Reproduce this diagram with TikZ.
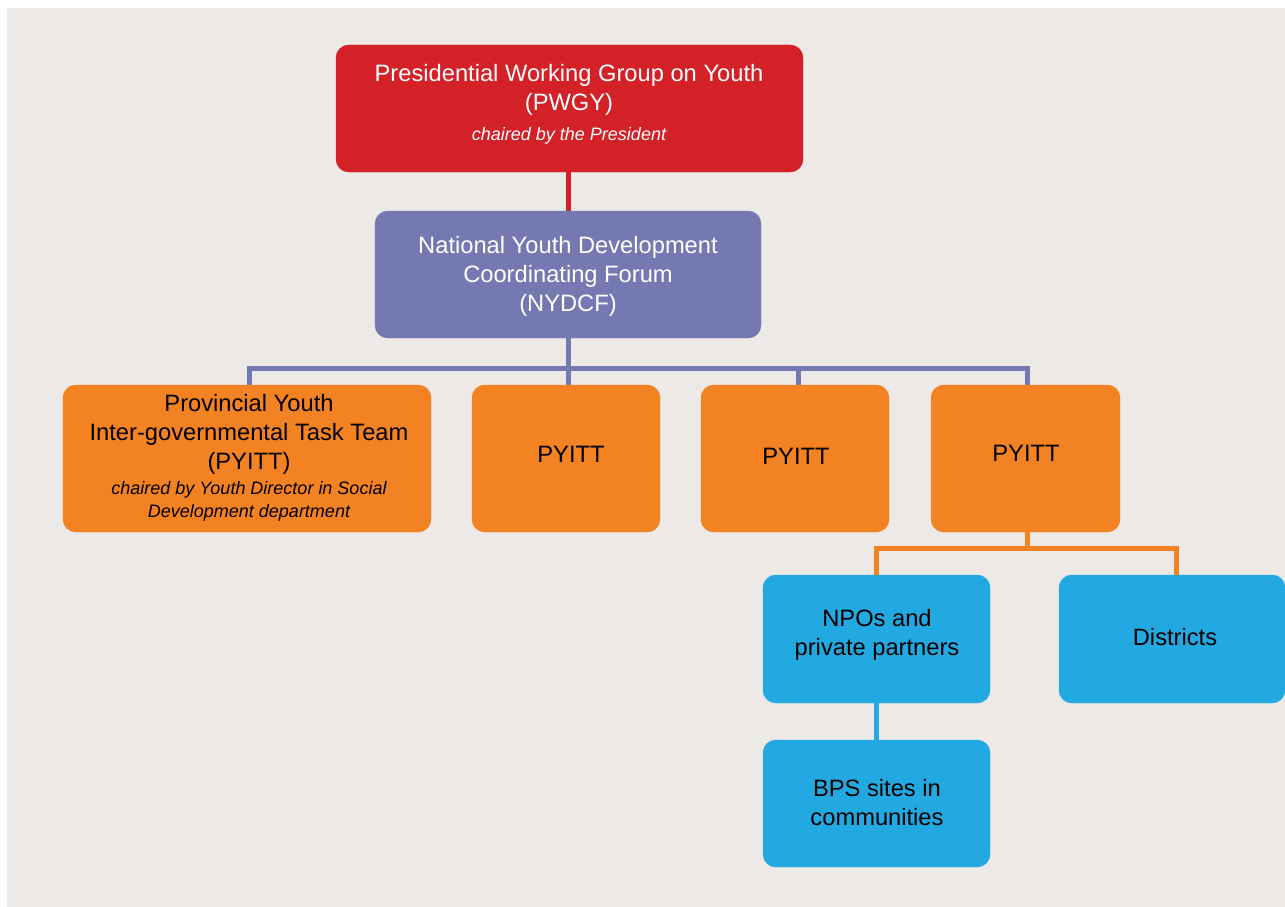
\documentclass[tikz,border=0pt]{standalone}
\usepackage{fontspec}
\setmainfont{Liberation Sans}
\definecolor{bgcol}{HTML}{ECE9E6}
\definecolor{pwred}{HTML}{D42027}
\definecolor{nypurple}{HTML}{7479B1}
\definecolor{pyorange}{HTML}{F38222}
\definecolor{dsblue}{HTML}{23A9E1}
\newcommand\subtxt{\fontsize{18}{23}\selectfont\itshape}
\begin{document}
\begin{tikzpicture}[x=1pt,y=-1pt,
  box/.style={rectangle, rounded corners=13pt, inner sep=0pt, anchor=center},
  txt/.style={align=center, font=\fontsize{23.7}{29}\selectfont, inner sep=0pt, anchor=center},
  conn/.style={line width=5pt}
]
\useasboundingbox (0,0) rectangle (1285,907);
\fill[bgcol] (7,8) rectangle (1285,907);

% boxes
\node[box, fill=pwred, minimum width=467pt, minimum height=127pt] (pwgy) at (569.5,108.5) {};
\node[box, fill=nypurple, minimum width=386pt, minimum height=127pt] (nydcf) at (568,274.5) {};
\node[box, fill=pyorange, minimum width=368pt, minimum height=147pt] (p1) at (247,458.5) {};
\node[box, fill=pyorange, minimum width=188pt, minimum height=147pt] (p2) at (566,458.5) {};
\node[box, fill=pyorange, minimum width=188pt, minimum height=147pt] (p3) at (795,458.5) {};
\node[box, fill=pyorange, minimum width=189pt, minimum height=147pt] (p4) at (1025.5,458.5) {};
\node[box, fill=dsblue, minimum width=227pt, minimum height=128pt] (npo) at (876.5,639) {};
\node[box, fill=dsblue, minimum width=226pt, minimum height=128pt] (dist) at (1172,639) {};
\node[box, fill=dsblue, minimum width=227pt, minimum height=127pt] (bps) at (876.5,803.5) {};

% connectors
\coordinate (bus) at (568,368);
\coordinate (obus) at (1027,548);
\draw[conn, pwred] (nydcf.north |- pwgy.south) -- (nydcf.north);
\draw[conn, nypurple] (nydcf.south) -- (bus);
\draw[conn, nypurple] ([xshift=2pt]p1.north) |- (bus) -| ([xshift=1.5pt]p4.north);
\draw[conn, nypurple] ([xshift=2pt]p2.north) -- ([xshift=2pt]p2.north |- bus);
\draw[conn, nypurple] ([xshift=3pt]p3.north) -- ([xshift=3pt]p3.north |- bus);
\draw[conn, pyorange] ([xshift=1.5pt]p4.south) -- (obus);
\draw[conn, pyorange] (npo.north) |- (obus) -| ([xshift=4pt]dist.north);
\draw[conn, dsblue] (npo.south) -- (bps.north);

% redraw boxes over connector ends
\fill[pwred, rounded corners=13pt] (pwgy.south west) rectangle (pwgy.north east);
\fill[nypurple, rounded corners=13pt] (nydcf.south west) rectangle (nydcf.north east);
\foreach \b in {p1,p2,p3,p4}{\fill[pyorange, rounded corners=13pt] (\b.south west) rectangle (\b.north east);}
\foreach \b in {npo,dist,bps}{\fill[dsblue, rounded corners=13pt] (\b.south west) rectangle (\b.north east);}

% texts
\node[txt, text=white] (pwgyt) at (569,104) {Presidential Working Group on Youth\\(PWGY)\\[1pt]{\subtxt chaired by the President}};
\node[txt, text=white] (nydcft) at (568,276) {National Youth Development\\Coordinating Forum\\(NYDCF)};
\node[txt] (p1t) at (249,458) {Provincial Youth\\Inter-governmental Task Team\\(PYITT)\\[-4pt]{\subtxt chaired by Youth Director in Social}\\[-6pt]{\subtxt Development department}};
\node[txt] (p2t) at (571,454) {PYITT};
\node[txt] (p3t) at (796,456) {PYITT};
\node[txt] (p4t) at (1026,453) {PYITT};
\node[txt] (npot) at (877,635) {NPOs and\\private partners};
\node[txt] (distt) at (1175,637) {Districts};
\node[txt] (bpst) at (877,803) {BPS sites in\\communities};
\end{tikzpicture}
\end{document}
